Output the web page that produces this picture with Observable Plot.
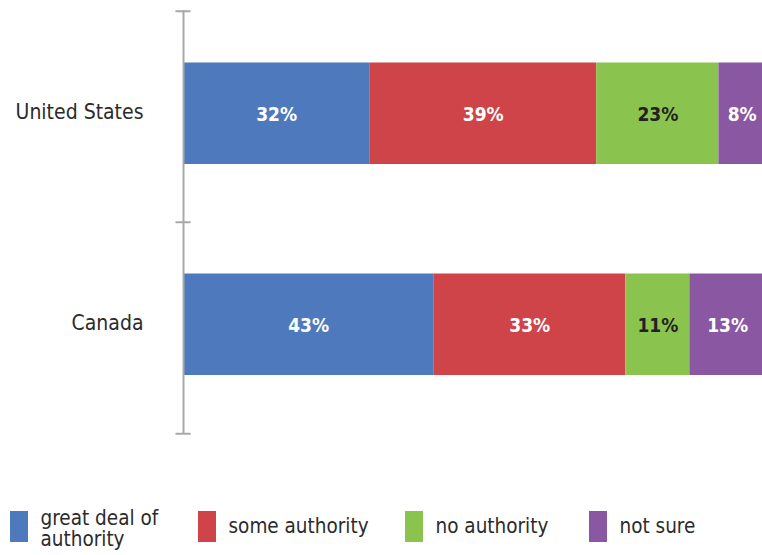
<!DOCTYPE html>
<html><head><meta charset="utf-8">
<script src="https://cdn.jsdelivr.net/npm/d3@7"></script>
<script src="https://cdn.jsdelivr.net/npm/@observablehq/plot@0.6"></script>
<style>
html,body{margin:0;padding:0;background:#fff;overflow:hidden;}
body{width:762px;height:555px;position:relative;font-family:"DejaVu Sans Condensed","DejaVu Sans",sans-serif;font-stretch:condensed;}
#chart{position:absolute;left:0;top:0;}
#legend{position:absolute;left:0;top:511px;width:762px;height:44px;}
.item{position:absolute;top:0;height:31px;display:flex;align-items:center;}
.sw{width:18px;height:31px;flex:none;}
.lab{margin-left:12.5px;font-size:20.5px;line-height:21px;color:#2b2b2b;white-space:nowrap;}
.two{padding-top:4px;}
</style></head><body>
<div id="chart"></div>
<div id="legend"></div>
<script>
// ---- data ----
const countries = ["United States", "Canada"];
const responses = ["great deal of authority", "some authority", "no authority", "not sure"];
const legendText = ["great deal of<br>authority", "some authority", "no authority", "not sure"];
const usValues = [32, 39, 21, 8];          // segment lengths as drawn
const canadaValues = [43, 33, 11, 13];
const usLabels = ["32%", "39%", "23%", "8%"];   // labels as printed
const canadaLabels = ["43%", "33%", "11%", "13%"];
const colors = ["#4e7abd", "#cf4449", "#8bc34f", "#8a58a2"];
const labelColors = ["#ffffff", "#ffffff", "#222222", "#ffffff"];

// ---- layout config ----
const W = 762, H = 445, frameTop = 10, frameBottom = 433, frameLeft = 183;
const step = (frameBottom - frameTop) / countries.length;
const legendLeft = [10, 198, 405, 589];
const font = '"DejaVu Sans Condensed","DejaVu Sans",sans-serif';

const rows = [];
countries.forEach((c, ci) => {
  const vals = ci === 0 ? usValues : canadaValues;
  const labs = ci === 0 ? usLabels : canadaLabels;
  vals.forEach((v, i) => rows.push({country: c, response: responses[i], value: v, label: labs[i], k: i}));
});

const chart = Plot.plot({
  width: W,
  height: H,
  marginLeft: frameLeft,
  marginRight: 0,
  marginTop: frameTop,
  marginBottom: H - frameBottom,
  style: {fontFamily: font, fontStretch: "condensed", background: "transparent", overflow: "hidden"},
  x: {domain: [0, 100], range: [frameLeft, 765], axis: null},
  y: {domain: countries, padding: 0, label: null},
  color: {type: "identity"},
  marks: [
    Plot.barX(rows, Plot.stackX({
      x: "value", y: "country", z: "response",
      fill: d => colors[d.k], insetTop: 51.5, insetBottom: 58
    })),
    Plot.text(rows, Plot.stackX({
      x: "value", y: "country", z: "response", text: "label",
      fill: d => labelColors[d.k], fontSize: 19, fontWeight: "bold", dy: -2.5
    })),
    Plot.ruleX([0], {stroke: "#a8a8a8", strokeWidth: 2}),
    Plot.ruleY(countries, {x1: -1.3, x2: 1.3, stroke: "#a8a8a8", strokeWidth: 2, dy: -step / 2}),
    Plot.ruleY(countries.slice(-1), {x1: -1.3, x2: 1.3, stroke: "#a8a8a8", strokeWidth: 2, dy: step / 2}),
    Plot.axisY({tickSize: 0, tickPadding: 40, fontSize: 21, fill: "#2b2b2b", dy: -4.5, label: null})
  ]
});
document.getElementById("chart").appendChild(chart);

const legend = document.getElementById("legend");
responses.forEach((r, i) => {
  const item = document.createElement("div");
  item.className = "item";
  item.style.left = legendLeft[i] + "px";
  const two = legendText[i].includes("<br>") ? " two" : "";
  item.innerHTML = `<div class="sw" style="background:${colors[i]}"></div><div class="lab${two}">${legendText[i]}</div>`;
  legend.appendChild(item);
});
</script>
</body></html>
